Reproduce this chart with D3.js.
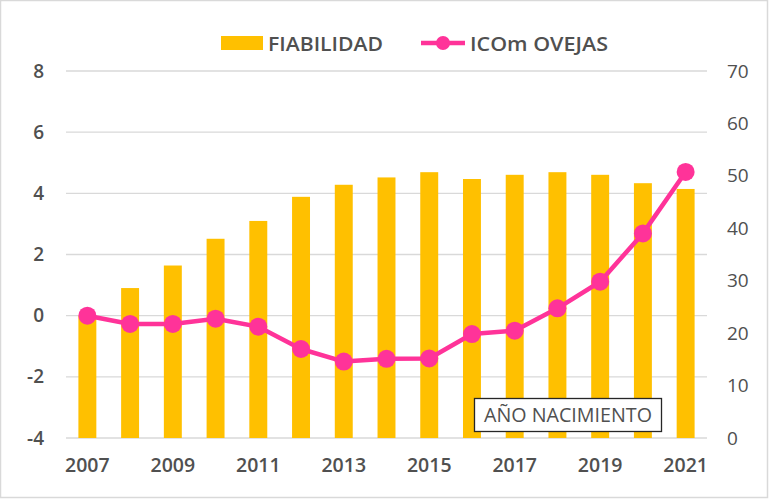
<!DOCTYPE html>
<html>
<head>
<meta charset="utf-8">
<script src="https://cdn.jsdelivr.net/npm/d3@7"></script>
<style>
  html, body { margin: 0; padding: 0; background: #fff; }
  svg { display: block; }
  text { font-family: "Open Sans", "Liberation Sans", sans-serif; fill: #505050; }
</style>
</head>
<body>
<svg id="chart" width="769" height="500"></svg>
<script>
const years = ["2007","2008","2009","2010","2011","2012","2013","2014","2015","2016","2017","2018","2019","2020","2021"];
const fiabilidad = [23.3, 28.6, 32.9, 38.0, 41.4, 46.0, 48.3, 49.7, 50.7, 49.4, 50.2, 50.7, 50.2, 48.6, 47.5];
const icomOvejas = [0.0, -0.27, -0.27, -0.1, -0.36, -1.09, -1.5, -1.41, -1.40, -0.6, -0.49, 0.24, 1.11, 2.69, 4.70];
const leftTicks = [-4, -2, 0, 2, 4, 6, 8];
const rightTicks = [0, 10, 20, 30, 40, 50, 60, 70];
const xTickLabels = ["2007","2009","2011","2013","2015","2017","2019","2021"];
const seriesNames = ["FIABILIDAD", "ICOm OVEJAS"];
const axisTitle = "AÑO NACIMIENTO";

const barColor = "#FFC000", lineColor = "#FF3399", gridColor = "#D9D9D9";
const svg = d3.select("#chart");
const L = 66, R = 707, T = 71, B = 438;

svg.append("rect").attr("x", 0.5).attr("y", 0.5).attr("width", 767).attr("height", 497)
  .attr("fill", "#fff").attr("stroke", "#D9D9D9").attr("stroke-width", 1.5);

const x = d3.scaleBand().domain(years).range([L, R]).paddingInner(0.58).paddingOuter(0.29);
const yL = d3.scaleLinear().domain([-4, 8]).range([B, T]);
const yR = d3.scaleLinear().domain([0, 70]).range([B, T]);

// gridlines
svg.append("g").selectAll("line").data(leftTicks).join("line")
  .attr("x1", L).attr("x2", R)
  .attr("y1", d => yL(d)).attr("y2", d => yL(d))
  .attr("stroke", gridColor).attr("stroke-width", 1.3);

// bars
svg.append("g").selectAll("rect").data(years).join("rect")
  .attr("x", d => x(d)).attr("width", x.bandwidth())
  .attr("y", (d, i) => yR(fiabilidad[i]))
  .attr("height", (d, i) => yR(0) - yR(fiabilidad[i]))
  .attr("fill", barColor);

// line
const cx = d => x(d) + x.bandwidth() / 2;
const line = d3.line().x(d => cx(d)).y((d, i) => yL(icomOvejas[i]));
svg.append("path").datum(years).attr("d", line)
  .attr("fill", "none").attr("stroke", lineColor).attr("stroke-width", 4.5)
  .attr("stroke-linejoin", "round");
svg.append("g").selectAll("circle").data(years).join("circle")
  .attr("cx", d => cx(d)).attr("cy", (d, i) => yL(icomOvejas[i]))
  .attr("r", 9).attr("fill", lineColor);

// axes
const styleAxis = (size, weight) => g => {
  g.select(".domain").remove();
  g.selectAll(".tick line").remove();
  g.selectAll("text").style("font-family", "'Open Sans', sans-serif")
    .style("font-size", size).style("font-weight", weight).attr("fill", "#505050");
};
svg.append("g").attr("transform", `translate(${L},0)`)
  .call(d3.axisLeft(yL).tickValues(leftTicks).tickSize(0).tickPadding(22).tickFormat(d => String(d)))
  .call(styleAxis("19px", "600"));
svg.append("g").attr("transform", `translate(${R},0)`)
  .call(d3.axisRight(yR).tickValues(rightTicks).tickSize(0).tickPadding(20).tickFormat(d => String(d)))
  .call(styleAxis("19px", "400"));
svg.append("g").attr("transform", `translate(0,${B})`)
  .call(d3.axisBottom(x).tickValues(xTickLabels).tickSize(0).tickPadding(20))
  .call(styleAxis("19.5px", "600"));

// axis title box
const tb = svg.append("g");
tb.append("rect").attr("x", 474.5).attr("y", 398.5).attr("width", 187).attr("height", 33)
  .attr("fill", "#fff").attr("stroke", "#262626").attr("stroke-width", 1.3);
tb.append("text").attr("x", 568).attr("y", 422).attr("text-anchor", "middle")
  .style("font-size", "20px").attr("textLength", 168).attr("lengthAdjust", "spacingAndGlyphs")
  .text(axisTitle);

// legend
const lg = svg.append("g");
lg.append("rect").attr("x", 221).attr("y", 36).attr("width", 42).attr("height", 14).attr("fill", barColor);
lg.append("text").attr("x", 268).attr("y", 51).style("font-size", "20.5px").style("font-weight", "600")
  .attr("textLength", 115).attr("lengthAdjust", "spacingAndGlyphs")
  .text(seriesNames[0]);
lg.append("line").attr("x1", 421).attr("x2", 465).attr("y1", 43).attr("y2", 43)
  .attr("stroke", lineColor).attr("stroke-width", 4.5);
lg.append("circle").attr("cx", 443).attr("cy", 43).attr("r", 7).attr("fill", lineColor);
lg.append("text").attr("x", 470).attr("y", 51).style("font-size", "20.5px").style("font-weight", "600")
  .attr("textLength", 138).attr("lengthAdjust", "spacingAndGlyphs")
  .text(seriesNames[1]);
</script>
</body>
</html>
